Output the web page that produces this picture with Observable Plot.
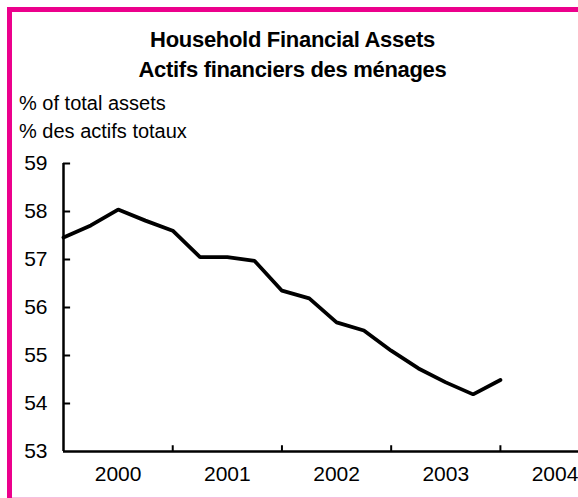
<!DOCTYPE html>
<html><head><meta charset="utf-8">
<script src="https://cdn.jsdelivr.net/npm/d3@7"></script>
<script src="https://cdn.jsdelivr.net/npm/@observablehq/plot@0.6"></script>
<style>
body{margin:0;background:#fff;}
#wrap{position:relative;width:578px;height:498px;overflow:hidden;background:#fff;font-family:"Liberation Sans",Arial,Helvetica,sans-serif;color:#000;}
#chart{position:absolute;left:0;top:140px;}
#title{position:absolute;left:0;width:585px;top:25px;text-align:center;font-weight:bold;font-size:22px;line-height:30px;letter-spacing:-0.3px;}
#sub{position:absolute;left:19px;top:89px;font-size:20px;line-height:28px;}
.fr{position:absolute;background:#EC008C;}
</style>
</head><body>
<div id="wrap">
  <div id="chart"></div>
  <div id="title">Household Financial Assets<br>Actifs financiers des ménages</div>
  <div id="sub">% of total assets<br>% des actifs totaux</div>
  <div class="fr" style="left:7px;top:7px;width:5px;height:491px;"></div>
  <div class="fr" style="left:7px;top:7px;width:571px;height:5px;"></div>
  <div class="fr" style="left:12px;top:497px;width:566px;height:1px;background:#f6bfdf;"></div>
</div>
<script>
const quarters = ["2000Q1","2000Q2","2000Q3","2000Q4","2001Q1","2001Q2","2001Q3","2001Q4","2002Q1","2002Q2","2002Q3","2002Q4","2003Q1","2003Q2","2003Q3","2003Q4","2004Q1"];
const values = [57.46, 57.71, 58.04, 57.81, 57.6, 57.05, 57.05, 56.97, 56.35, 56.19, 55.69, 55.52, 55.1, 54.73, 54.44, 54.19, 54.49];
const yearLabels = ["2000","2001","2002","2003","2004"];
const yTicks = [53, 54, 55, 56, 57, 58, 59];

const data = quarters.map((q, i) => ({q, i, v: values[i]}));
const yearCenters = yearLabels.map((y, k) => k * 4 + 2);
const yearBounds = [4, 8, 12, 16];

const fontFam = '"Liberation Sans", Arial, Helvetica, sans-serif';

const plot = Plot.plot({
  width: 578,
  height: 358,
  marginLeft: 63,
  marginRight: 0,
  marginTop: 23,
  marginBottom: 47,
  style: {background: "transparent", fontFamily: fontFam, fontSize: "21px", color: "#000", overflow: "visible"},
  x: {domain: [0, 18.86], axis: null},
  y: {domain: [53, 59], axis: null},
  marks: [
    Plot.axisY(yTicks, {tickSize: 0, tickPadding: 16, tickFormat: d => String(d), fontSize: 21, label: null}),
    Plot.axisX(yearCenters, {tickSize: 0, tickPadding: 15, tickFormat: (d, k) => yearLabels[k], fontSize: 21, label: null}),
    Plot.ruleY(yTicks.slice(1), {x1: 0, x2: 0.26, stroke: "#000", strokeWidth: 2}),
    Plot.ruleX(yearBounds, {y1: 53, y2: 53.12, stroke: "#000", strokeWidth: 2}),
    Plot.ruleX([0], {y1: 53, y2: 59, stroke: "#000", strokeWidth: 2.5}),
    Plot.ruleY([53], {stroke: "#000", strokeWidth: 2.5}),
    Plot.line(data, {x: "i", y: "v", stroke: "#000", strokeWidth: 3.8, strokeLinejoin: "miter"})
  ]
});
document.getElementById("chart").appendChild(plot);
</script>
</body></html>
